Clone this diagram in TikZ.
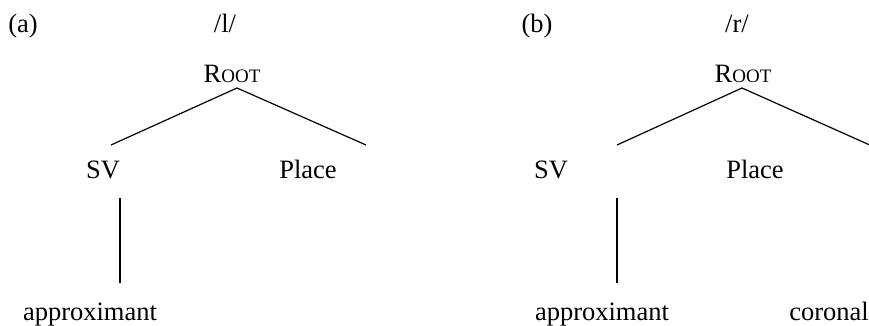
\documentclass[tikz,border=0pt]{standalone}
\usepackage{fontspec}
\setmainfont{Liberation Serif}
\newcommand{\myRoot}{R{\fontsize{19}{22}\selectfont OOT}}
\begin{document}
\begin{tikzpicture}[x=1pt,y=-1pt,
  every node/.style={inner sep=0pt, anchor=base, font=\fontsize{26.5}{30}\selectfont},
  edgeline/.style={line width=1.2pt, line cap=butt}]
\useasboundingbox (0,0) rectangle (869,326);
% (a)
\node (labA) at (23,33) {(a)};
\node (segA) at (225,33) {/l/};
\node (rootA) at (232,83) {\myRoot};
\node (svA) at (103,178) {SV};
\node (placeA) at (308,178) {Place};
\node (apprA) at (90,320) {approximant};
\coordinate (rootAb) at (237,88);
\coordinate (svAt) at (111,145);
\coordinate (placeAt) at (366,145);
\coordinate (svAb) at (120,198);
\coordinate (apprAt) at (120,283);
\draw[edgeline] (svAt) -- (rootAb) -- (placeAt);
\draw[edgeline] (svAb) -- (apprAt);
% (b)
\node (labB) at (537,33) {(b)};
\node (segB) at (737,33) {/r/};
\node (rootB) at (743,83) {\myRoot};
\node (svB) at (551,178) {SV};
\node (placeB) at (755,178) {Place};
\node (apprB) at (602,320) {approximant};
\node (corB) at (829,320) {coronal};
\coordinate (rootBb) at (742,88);
\coordinate (svBt) at (617,145);
\coordinate (placeBt) at (872,146);
\coordinate (svBb) at (617,198);
\coordinate (apprBt) at (617,283);
\draw[edgeline] (svBt) -- (rootBb) -- (placeBt);
\draw[edgeline] (svBb) -- (apprBt);
\end{tikzpicture}
\end{document}
